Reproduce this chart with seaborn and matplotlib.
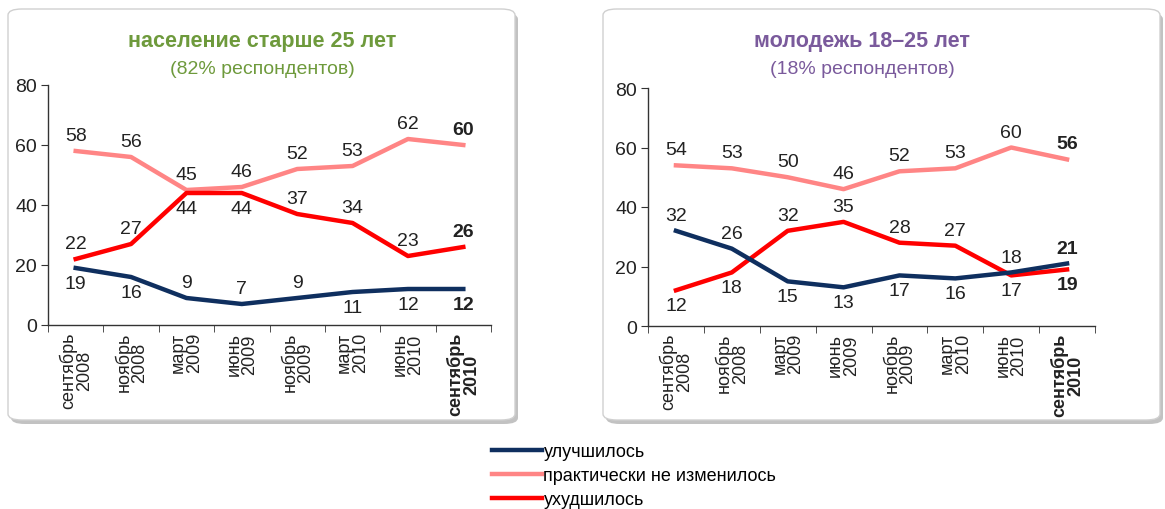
import matplotlib
matplotlib.use("Agg")
import matplotlib.pyplot as plt
from matplotlib.patches import FancyBboxPatch
from matplotlib.lines import Line2D
import seaborn as sns
import pandas as pd
import numpy as np

periods = ["сентябрь\n2008", "ноябрь\n2008", "март\n2009", "июнь\n2009",
           "ноябрь\n2009", "март\n2010", "июнь\n2010", "сентябрь\n2010"]
series_names = ["улучшилось", "практически не изменилось", "ухудшилось"]

old_improved = [19, 16, 9, 7, 9, 11, 12, 12]
old_same = [58, 56, 45, 46, 52, 53, 62, 60]
old_worse = [22, 27, 44, 44, 37, 34, 23, 26]

young_improved = [32, 26, 15, 13, 17, 16, 18, 21]
young_same = [54, 53, 50, 46, 52, 53, 60, 56]
young_worse = [12, 18, 32, 35, 28, 27, 17, 19]

# label placement: +1 above, -1 below
old_pos = {"улучшилось": [-1, -1, 1, 1, 1, -1, -1, -1],
           "практически не изменилось": [1] * 8,
           "ухудшилось": [1, 1, -1, -1, 1, 1, 1, 1]}
young_pos = {"улучшилось": [1, 1, -1, -1, -1, -1, 1, 1],
             "практически не изменилось": [1] * 8,
             "ухудшилось": [-1, -1, 1, 1, 1, 1, -1, -1]}

colors = {"улучшилось": "#0f2f5f",
          "практически не изменилось": "#ff8585",
          "ухудшилось": "#ff0000"}

FONT = ["Liberation Sans", "DejaVu Sans"]
plt.rcParams["font.family"] = FONT

W, H = 1165, 510
fig = plt.figure(figsize=(W / 100, H / 100), dpi=100)
fig.patch.set_facecolor("white")


def fx(x):
    return x / W


def fy(y):
    return 1 - y / H


# panel boxes with shadow
for (x0, x1) in [(8, 515), (603, 1160)]:
    y0, y1 = 10, 421
    sh = FancyBboxPatch((fx(x0 + 3), fy(y1 + 4)), fx(x1 - x0), (y1 - y0) / H,
                        boxstyle="round,pad=0,rounding_size=0.012",
                        transform=fig.transFigure, facecolor="#9a9a9a",
                        edgecolor="none", zorder=-3, alpha=0.6)
    fig.patches.append(sh)
    bx = FancyBboxPatch((fx(x0), fy(y1)), fx(x1 - x0), (y1 - y0) / H,
                        boxstyle="round,pad=0,rounding_size=0.012",
                        transform=fig.transFigure, facecolor="white",
                        edgecolor="#d0d0d0", linewidth=1.0, zorder=-2)
    fig.patches.append(bx)


def make_df(imp, same, worse):
    rows = []
    for name, vals in zip(series_names, [imp, same, worse]):
        for i, v in enumerate(vals):
            rows.append({"x": i, "value": v, "series": name})
    return pd.DataFrame(rows)


panels = [
    dict(rect=[fx(48), fy(326), fx(491 - 48), (326 - 86) / H],
         data=(old_improved, old_same, old_worse), pos=old_pos,
         title="население старше 25 лет", sub="(82% респондентов)",
         tcolor="#6e9a3c", cx=262),
    dict(rect=[fx(648), fy(327), fx(1095 - 648), (327 - 89) / H],
         data=(young_improved, young_same, young_worse), pos=young_pos,
         title="молодежь 18–25 лет", sub="(18% респондентов)",
         tcolor="#7a5a9c", cx=862),
]

for p in panels:
    ax = fig.add_axes(p["rect"])
    ax.set_facecolor("none")
    ax.set_zorder(1)
    df = make_df(*p["data"])
    sns.lineplot(data=df, x="x", y="value", hue="series", palette=colors,
                 hue_order=["практически не изменилось", "ухудшилось", "улучшилось"],
                 linewidth=3.2, ax=ax, legend=False, sort=False)
    ax.set_xlim(-0.5, 7.5)
    ax.set_ylim(0, 80)
    ax.set_yticks([0, 20, 40, 60, 80])
    ax.set_yticklabels(["0", "20", "40", "60", "80"], fontsize=14, color="#222222")
    ax.set_xticks(np.arange(8))
    ax.set_xticklabels(periods, rotation=90, fontsize=13, color="#222222",
                       linespacing=0.9, va="top", ha="center")
    ax.get_xticklabels()[-1].set_fontweight("bold")
    ax.tick_params(axis="x", length=0, pad=5)
    ax.set_xticks(np.arange(-0.5, 8, 1), minor=True)
    ax.tick_params(axis="x", which="minor", length=5, direction="out", color="#333333")
    ax.tick_params(axis="y", length=5, direction="out", color="#333333", pad=3)
    ax.set_xlabel("")
    ax.set_ylabel("")
    for s in ["top", "right"]:
        ax.spines[s].set_visible(False)
    for s in ["left", "bottom"]:
        ax.spines[s].set_color("#333333")
        ax.spines[s].set_linewidth(1.0)
    for name, vals in zip(series_names, p["data"]):
        for i, v in enumerate(vals):
            d = p["pos"][name][i]
            ax.annotate(str(v), (i, v), xytext=(0, 5 * d), textcoords="offset points",
                        ha="center", va="bottom" if d > 0 else "top",
                        fontsize=14, color="#222222",
                        fontweight="bold" if i == 7 else "normal")
    fig.text(fx(p["cx"]), fy(42), p["title"], ha="center", va="center",
             fontsize=15.5, fontweight="bold", color=p["tcolor"])
    fig.text(fx(p["cx"]), fy(69), p["sub"], ha="center", va="center",
             fontsize=14, color=p["tcolor"])

handles = [Line2D([], [], color=colors[n], linewidth=3.2) for n in series_names]
fig.legend(handles, series_names, loc="upper left",
           bbox_to_anchor=(fx(492), fy(444)), frameon=False, fontsize=13,
           handlelength=2.75, handletextpad=0.1, labelspacing=0.4,
           borderaxespad=0, borderpad=0)

fig.savefig("out.png", dpi=100, facecolor="white")
